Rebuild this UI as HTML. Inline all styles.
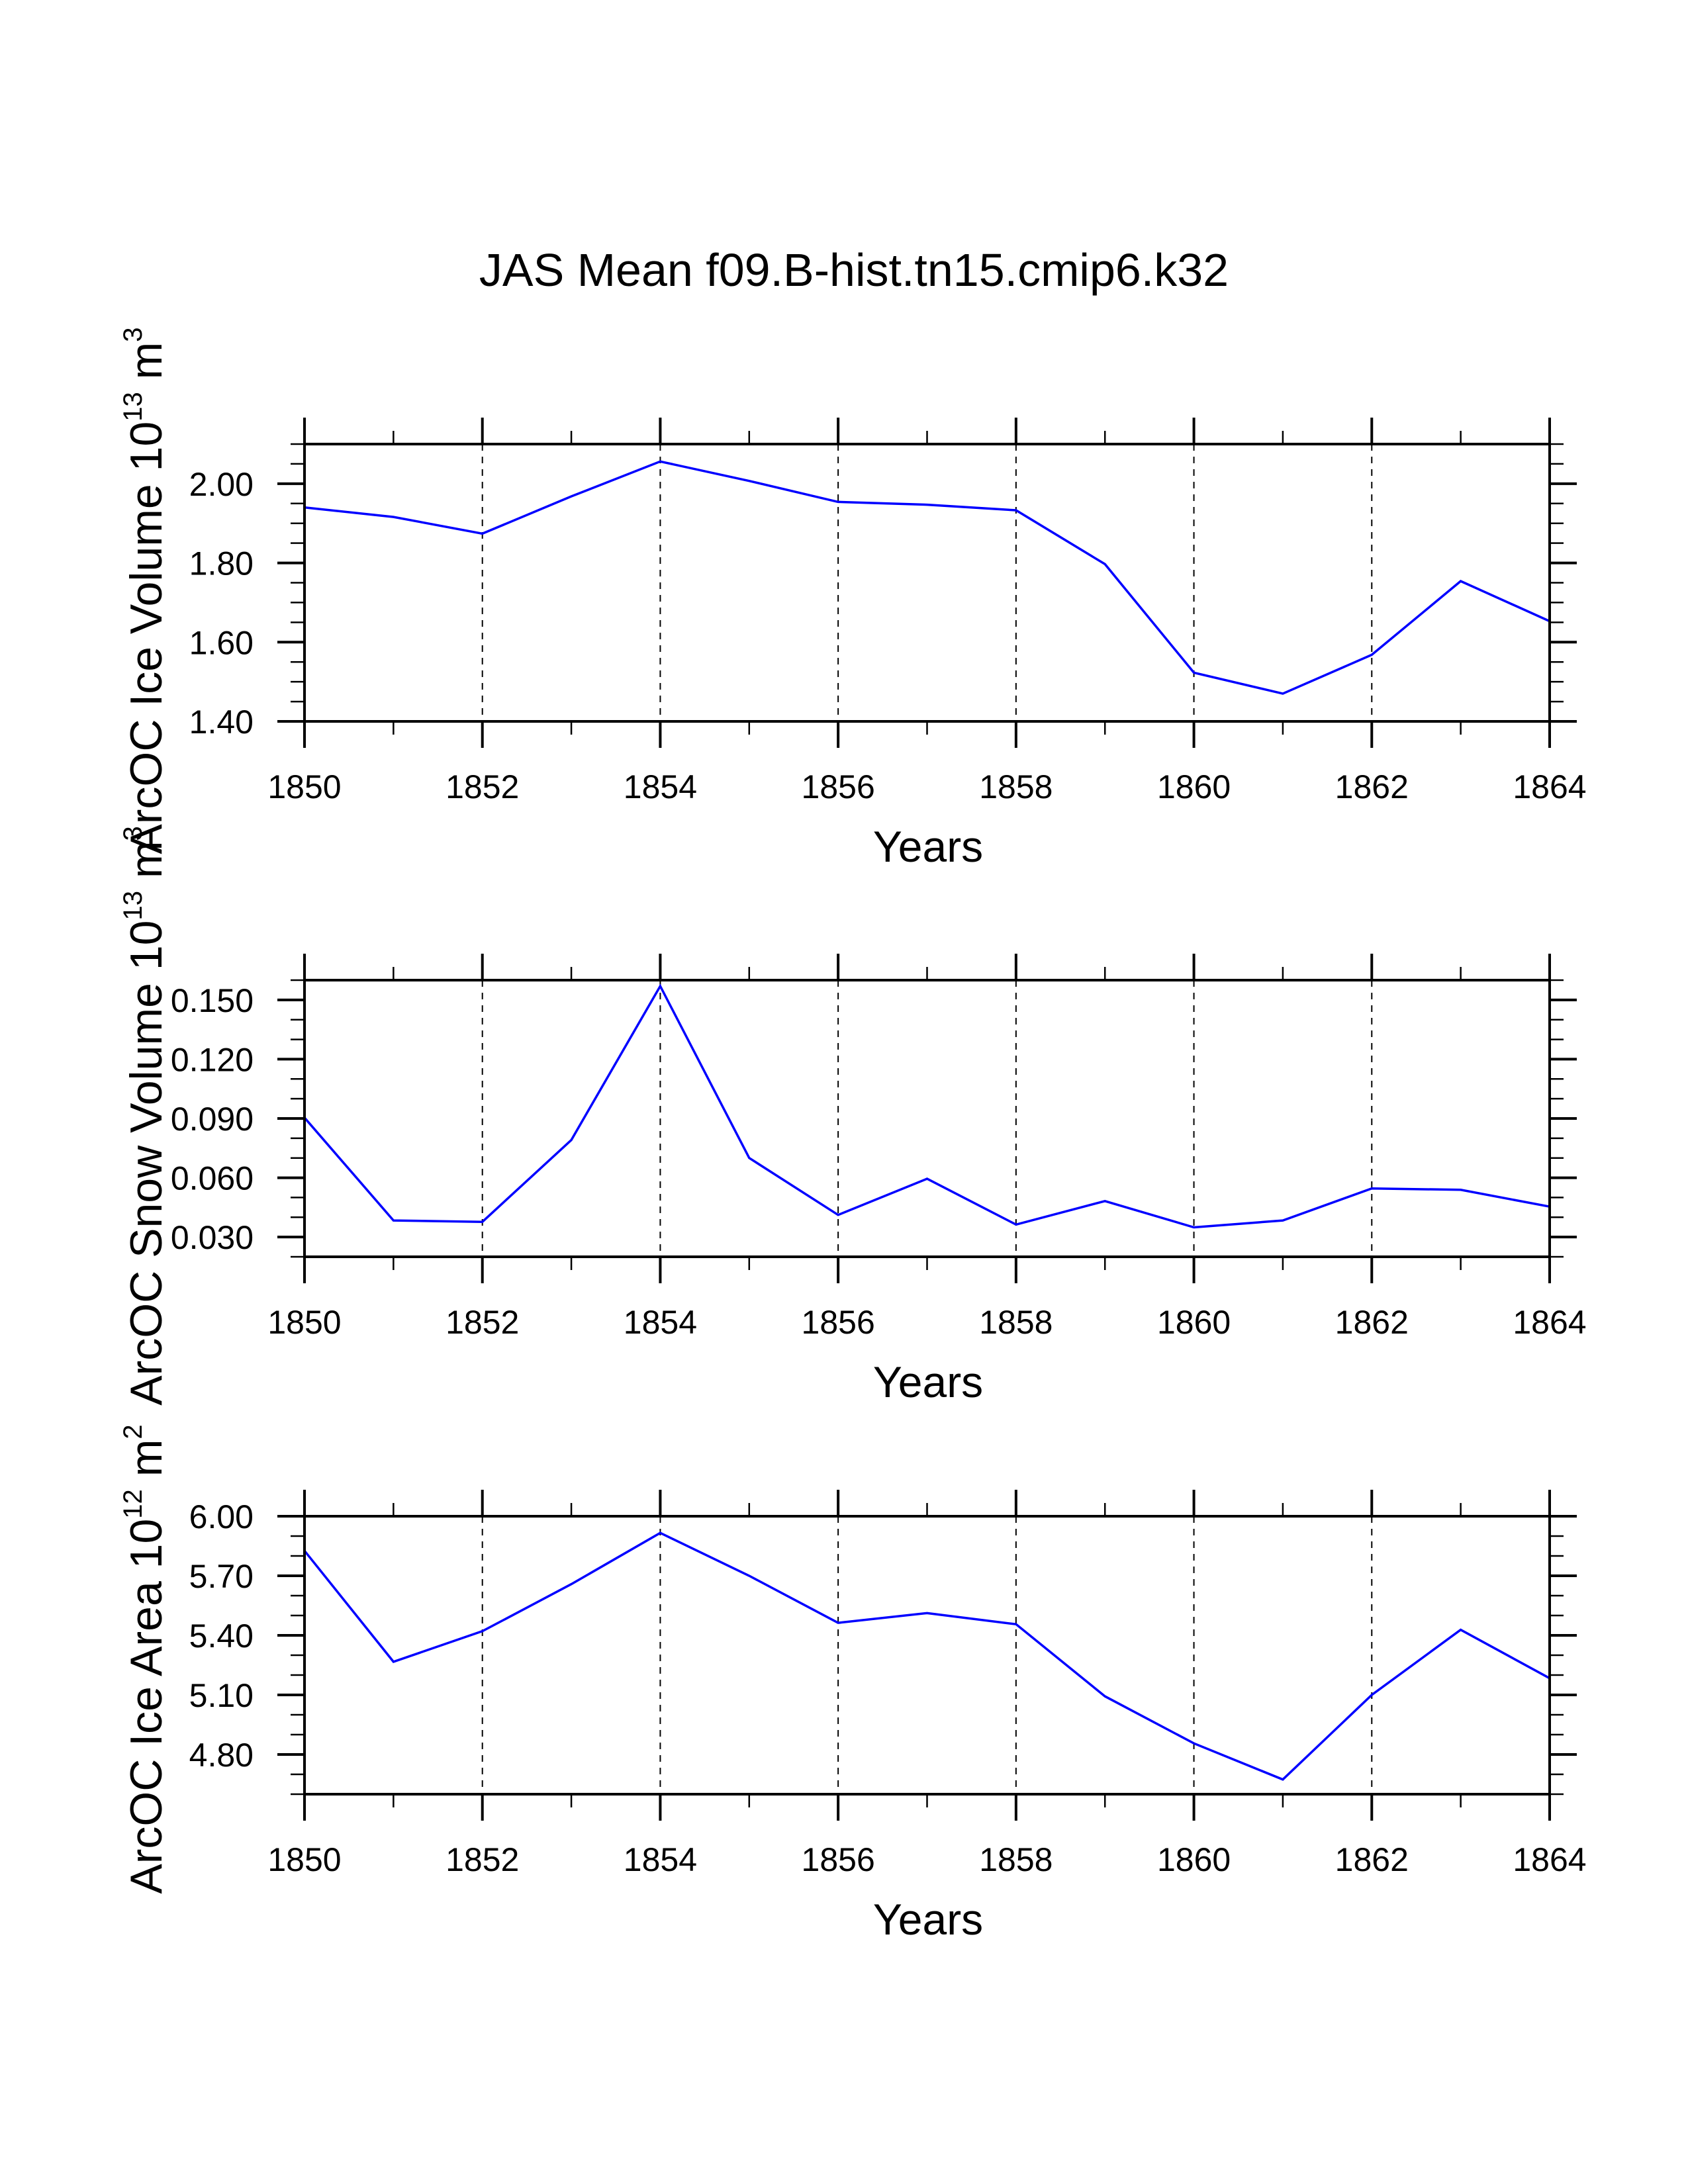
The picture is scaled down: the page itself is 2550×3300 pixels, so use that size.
<!DOCTYPE html>
<html><head><meta charset="utf-8"><style>
html,body{margin:0;padding:0;background:#fff;}
svg{display:block;font-family:"Liberation Sans",Arial,sans-serif;}
</style></head><body>
<svg id="chart" width="2550" height="3300" viewBox="0 0 2550 3300" xmlns="http://www.w3.org/2000/svg">
<rect width="2550" height="3300" fill="#fff"/>
<text x="1290" y="432" font-size="70" text-anchor="middle">JAS Mean f09.B-hist.tn15.cmip6.k32</text>
</svg>
<script>
const years = [1850,1851,1852,1853,1854,1855,1856,1857,1858,1859,1860,1861,1862,1863,1864];
const iceVolume = [1.940,1.916,1.874,1.968,2.056,2.007,1.954,1.947,1.933,1.797,1.523,1.470,1.568,1.754,1.653];
const snowVolume = [0.0904,0.0384,0.0377,0.0791,0.157,0.070,0.0412,0.0595,0.0363,0.0482,0.0349,0.0384,0.0546,0.0539,0.0454];
const iceArea = [5.826,5.267,5.421,5.658,5.916,5.700,5.463,5.512,5.456,5.093,4.856,4.674,5.100,5.428,5.184];
const xTickLabels = ["1850","1852","1854","1856","1858","1860","1862","1864"];
const iceVolumeTicks = ["1.40","1.60","1.80","2.00"];
const snowVolumeTicks = ["0.030","0.060","0.090","0.120","0.150"];
const iceAreaTicks = ["4.80","5.10","5.40","5.70","6.00"];

const NS = "http://www.w3.org/2000/svg";
const svg = document.getElementById('chart');
function mk(tag, attrs, parent){
  const e = document.createElementNS(NS, tag);
  for (const k in attrs) e.setAttribute(k, attrs[k]);
  (parent||svg).appendChild(e);
  return e;
}
const X0 = 460, X1 = 2341;
function xs(yr){ return X0 + (yr - 1850) / 14 * (X1 - X0); }

function panel(cfg){
  const g = mk('g', {});
  
  
  const top = cfg.top, bot = cfg.bot;
  const ys = v => bot - (v - cfg.min) / (cfg.max - cfg.min) * (bot - top);
  // grid dashed
  for (let yr = 1852; yr <= 1862; yr += 2) {
    const l = mk('line', {x1: xs(yr), x2: xs(yr), y1: top, y2: bot, stroke: '#000', 'stroke-width': 2, 'stroke-dasharray': '10 9'}, g);
    
    
  }
  // x ticks
  for (let yr = 1850; yr <= 1864; yr++) {
    const major = (yr % 2 === 0);
    const len = major ? 40 : 20, w = major ? 4 : 2.5;
    const t1 = mk('line', {x1: xs(yr), x2: xs(yr), y1: top, y2: top - len, stroke: '#000', 'stroke-width': w}, g);
    
    
    const t2 = mk('line', {x1: xs(yr), x2: xs(yr), y1: bot, y2: bot + len, stroke: '#000', 'stroke-width': w}, g);
    
    
  }
  xTickLabels.forEach(s => {
    const t = mk('text', {x: xs(+s), y: bot + 116, 'font-size': 50, 'text-anchor': 'middle'}, g);
    t.textContent = s;
    
    
  });
  // y minor ticks
  const n = Math.round((cfg.max - cfg.min) / cfg.minor);
  for (let i = 0; i <= n; i++) {
    const v = cfg.min + i * cfg.minor, y = ys(v);
    const l1 = mk('line', {x1: X0, x2: X0 - 21, y1: y, y2: y, stroke: '#000', 'stroke-width': 2.5}, g);
    
    
    const l2 = mk('line', {x1: X1, x2: X1 + 21, y1: y, y2: y, stroke: '#000', 'stroke-width': 2.5}, g);
    
    
  }
  cfg.ticks.forEach(s => {
    const y = ys(parseFloat(s));
    const l1 = mk('line', {x1: X0, x2: X0 - 41, y1: y, y2: y, stroke: '#000', 'stroke-width': 4}, g);
    
    
    const l2 = mk('line', {x1: X1, x2: X1 + 41, y1: y, y2: y, stroke: '#000', 'stroke-width': 4}, g);
    
    
    const t = mk('text', {x: 383, y: y + 18, 'font-size': 50, 'text-anchor': 'end'}, g);
    t.textContent = s;
    
    
  });
  // data line
  const pts = years.map((yr, i) => xs(yr).toFixed(1) + ',' + ys(cfg.data[i]).toFixed(1)).join(' ');
  const pl = mk('polyline', {points: pts, fill: 'none', stroke: '#0000ff', 'stroke-width': 3.5, 'stroke-linejoin': 'miter'}, g);
  
  
  // frame
  const fr = mk('rect', {x: X0, y: top, width: X1 - X0, height: bot - top, fill: 'none', stroke: '#000', 'stroke-width': 4}, g);
  
  
  // x title
  const xt = mk('text', {x: 1402, y: bot + 212, 'font-size': 66, 'text-anchor': 'middle'}, g);
  xt.textContent = 'Years';
  
  
  // y title
  const cy = (top + bot) / 2 + cfg.yoff;
  const yt = mk('text', {x: 0, y: 0, 'font-size': 68, 'text-anchor': 'middle', transform: 'translate(244,' + cy + ') rotate(-90)'}, g);
  
  
  const a = mk('tspan', {}, yt); a.textContent = cfg.label + ' 10';
  const b = mk('tspan', {dy: -30, 'font-size': 40}, yt); b.textContent = cfg.exp;
  const c = mk('tspan', {dy: 30}, yt); c.textContent = '\u00a0m';
  const d = mk('tspan', {dy: -30, 'font-size': 40}, yt); d.textContent = cfg.unit;
}
panel({name: 'ice-volume-panel', top: 671, bot: 1090, min: 1.40, max: 2.10, minor: 0.05, ticks: iceVolumeTicks, data: iceVolume, label: 'ArcOC Ice Volume', exp: '13', unit: '3', yoff: 12});
panel({name: 'snow-volume-panel', top: 1481, bot: 1899, min: 0.02, max: 0.16, minor: 0.01, ticks: snowVolumeTicks, data: snowVolume, label: 'ArcOC Snow Volume', exp: '13', unit: '3', yoff: -4});
panel({name: 'ice-area-panel', top: 2291, bot: 2711, min: 4.60, max: 6.00, minor: 0.1, ticks: iceAreaTicks, data: iceArea, label: 'ArcOC Ice Area', exp: '12', unit: '2', yoff: 6});
</script>
</body></html>
